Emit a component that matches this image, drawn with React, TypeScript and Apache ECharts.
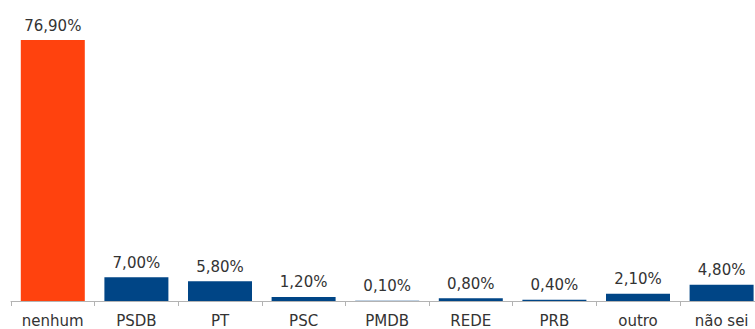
import React, { useEffect, useRef } from "react";
import * as echarts from "echarts";

const categories = ["nenhum", "PSDB", "PT", "PSC", "PMDB", "REDE", "PRB", "outro", "não sei"];
const values = [76.9, 7.0, 5.8, 1.2, 0.1, 0.8, 0.4, 2.1, 4.8];
const barColors = ["#ff420e", "#004586", "#004586", "#004586", "#004586", "#004586", "#004586", "#004586", "#004586"];

export default function App() {
  const ref = useRef<HTMLDivElement>(null);
  useEffect(() => {
    const chart = echarts.init(ref.current!, null, { renderer: "svg" });
    chart.setOption({
      animation: false,
      backgroundColor: "#ffffff",
      grid: { left: 11, right: 16.6, top: 29.5, bottom: 28 },
      xAxis: {
        type: "category",
        data: categories,
        boundaryGap: true,
        axisLine: { lineStyle: { color: "#b3b3b3", width: 1 } },
        axisTick: { show: true, length: 5, lineStyle: { color: "#b3b3b3" } },
        axisLabel: {
          color: "#333333",
          fontFamily: "DejaVu Sans",
          fontSize: 15,
          margin: 12,
          interval: 0,
        },
      },
      yAxis: {
        type: "value",
        min: 0,
        max: 80,
        show: false,
        splitLine: { show: false },
      },
      series: [
        {
          type: "bar",
          barWidth: 64,
          data: values.map((v, i) => ({ value: v, itemStyle: { color: barColors[i] } })),
          label: {
            show: true,
            position: "top",
            distance: 7,
            color: "#333333",
            fontFamily: "DejaVu Sans",
            fontSize: 15,
            formatter: (p: any) => p.value.toFixed(2).replace(".", ",") + "%",
          },
        },
      ],
    });
    return () => chart.dispose();
  }, []);
  return (
    <div style={{ position: "absolute", left: 0, top: 0, width: 755, height: 329, overflow: "hidden", background: "#fff" }}>
      <div ref={ref} style={{ width: 780, height: 329 }} />
    </div>
  );
}
